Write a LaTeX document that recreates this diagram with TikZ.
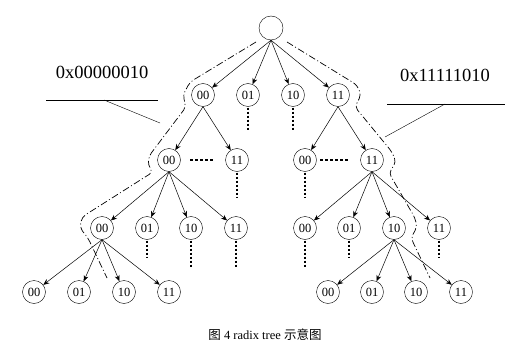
\documentclass[tikz,border=0pt]{standalone}
\usepackage{fontspec}
\setmainfont{Liberation Serif}
\newfontfamily\cjk{Noto Sans CJK SC}
\usepackage{tikz}
\usetikzlibrary{arrows.meta,calc}

\begin{document}
\begin{tikzpicture}[x=1pt,y=1pt]
	\tikzset{vertex/.style={draw,circle,inner sep=0pt,minimum size=23pt,font=\fontsize{12.5}{13}\selectfont}}
	\tikzset{edge/.style={-{Stealth[length=6pt,width=5pt]},line width=0.5pt}}
	\tikzset{stub/.style={line width=1.5pt,dash pattern=on 2.5pt off 1.5pt}}
	\tikzset{gap/.style={line width=1.2pt,dash pattern=on 3pt off 2pt}}
	\tikzset{path/.style={line width=0.7pt,dash pattern=on 7pt off 2.5pt on 1pt off 2.5pt,rounded corners=4pt}}
	\useasboundingbox (0,0) rectangle (521,362);

	% vertices
	\node[vertex,minimum size=24pt] (r) at (271,334) {};
	\node[vertex] (l1a) at (203,267) {00};
	\node[vertex] (l1b) at (248,267) {01};
	\node[vertex] (l1c) at (293,267) {10};
	\node[vertex] (l1d) at (338,267) {11};
	\node[vertex] (l2a) at (169,202) {00};
	\node[vertex] (l2b) at (237,202) {11};
	\node[vertex] (l2c) at (305,202) {00};
	\node[vertex] (l2d) at (372,202) {11};
	\node[vertex] (l3a) at (102,134) {00};
	\node[vertex] (l3b) at (147,134) {01};
	\node[vertex] (l3c) at (191,134) {10};
	\node[vertex] (l3d) at (236,134) {11};
	\node[vertex] (l3e) at (305,134) {00};
	\node[vertex] (l3f) at (349,134) {01};
	\node[vertex] (l3g) at (394,134) {10};
	\node[vertex] (l3h) at (439,134) {11};
	\node[vertex] (l4a) at (34,70) {00};
	\node[vertex] (l4b) at (79,70) {01};
	\node[vertex] (l4c) at (124,70) {10};
	\node[vertex] (l4d) at (169,70) {11};
	\node[vertex] (l4e) at (328,70) {00};
	\node[vertex] (l4f) at (372,70) {01};
	\node[vertex] (l4g) at (416,70) {10};
	\node[vertex] (l4h) at (461,70) {11};

	% edges
	\foreach \c in {l1a,l1b,l1c,l1d} \draw[edge] (r.south) -- (\c);
	\foreach \c in {l2a,l2b} \draw[edge] (l1a.south) -- (\c);
	\foreach \c in {l2c,l2d} \draw[edge] (l1d.south) -- (\c);
	\foreach \c in {l3a,l3b,l3c,l3d} \draw[edge] (l2a.south) -- (\c);
	\foreach \c in {l3e,l3f,l3g,l3h} \draw[edge] (l2d.south) -- (\c);
	\foreach \c in {l4a,l4b,l4c,l4d} \draw[edge] (l3a.south) -- (\c);
	\foreach \c in {l4e,l4f,l4g,l4h} \draw[edge] (l3g.south) -- (\c);

	% cut-off branches
	\coordinate (e1b) at (248,232);
	\coordinate (e1c) at (293,232);
	\coordinate (e2b) at (237,165);
	\coordinate (e2c) at (305,165);
	\coordinate (e3b) at (147,105);
	\coordinate (e3c) at (191,94);
	\coordinate (e3d) at (236,94);
	\coordinate (e3e) at (305,94);
	\coordinate (e3f) at (349,105);
	\coordinate (e3h) at (439,105);
	\foreach \c in {1b,1c,2b,2c,3b,3c,3d,3e,3f,3h} \draw[stub,shorten <=1pt] (l\c.south) -- (e\c);
	\draw[gap,shorten <=9.5pt,shorten >=10.5pt] (l2a) -- (l2b);
	\draw[gap,shorten <=3.5pt,shorten >=10.5pt] (l2c) -- (l2d);

	% search paths
	\draw[path] (256,320) -- (190,280) -- (183,267) -- (186,255) -- (149,206) -- (148,197)
		-- (153,190) -- (82,145) -- (80,134) -- (88,124) -- (107,84);
	\draw[path] (287,320) -- (357,277) -- (361,267) -- (355,255) -- (392,210) -- (396,200)
		-- (389,189) -- (415,144) -- (417,135) -- (411,124) -- (430,84);

	% keys
	\node[font=\fontsize{18.5}{20}\selectfont] (k1) at (102,290) {0x00000010};
	\node[font=\fontsize{18.5}{20}\selectfont] (k2) at (445,287) {0x11111010};
	\coordinate (k1a) at (46,262);
	\coordinate (k1b) at (158,262);
	\coordinate (k1m) at (104,262);
	\coordinate (k1p) at (160,239);
	\coordinate (k2a) at (387,258);
	\coordinate (k2b) at (505,258);
	\coordinate (k2m) at (445,258);
	\coordinate (k2p) at (385,225);
	\draw (k1a) -- (k1b);
	\draw (k1m) -- (k1p);
	\draw (k2a) -- (k2b);
	\draw (k2m) -- (k2p);

	% caption
	\node[font=\fontsize{12.5}{13.5}\selectfont] (cap) at (265,27) {{\cjk 图} 4 radix tree {\cjk 示意图}};
\end{tikzpicture}
\end{document}
